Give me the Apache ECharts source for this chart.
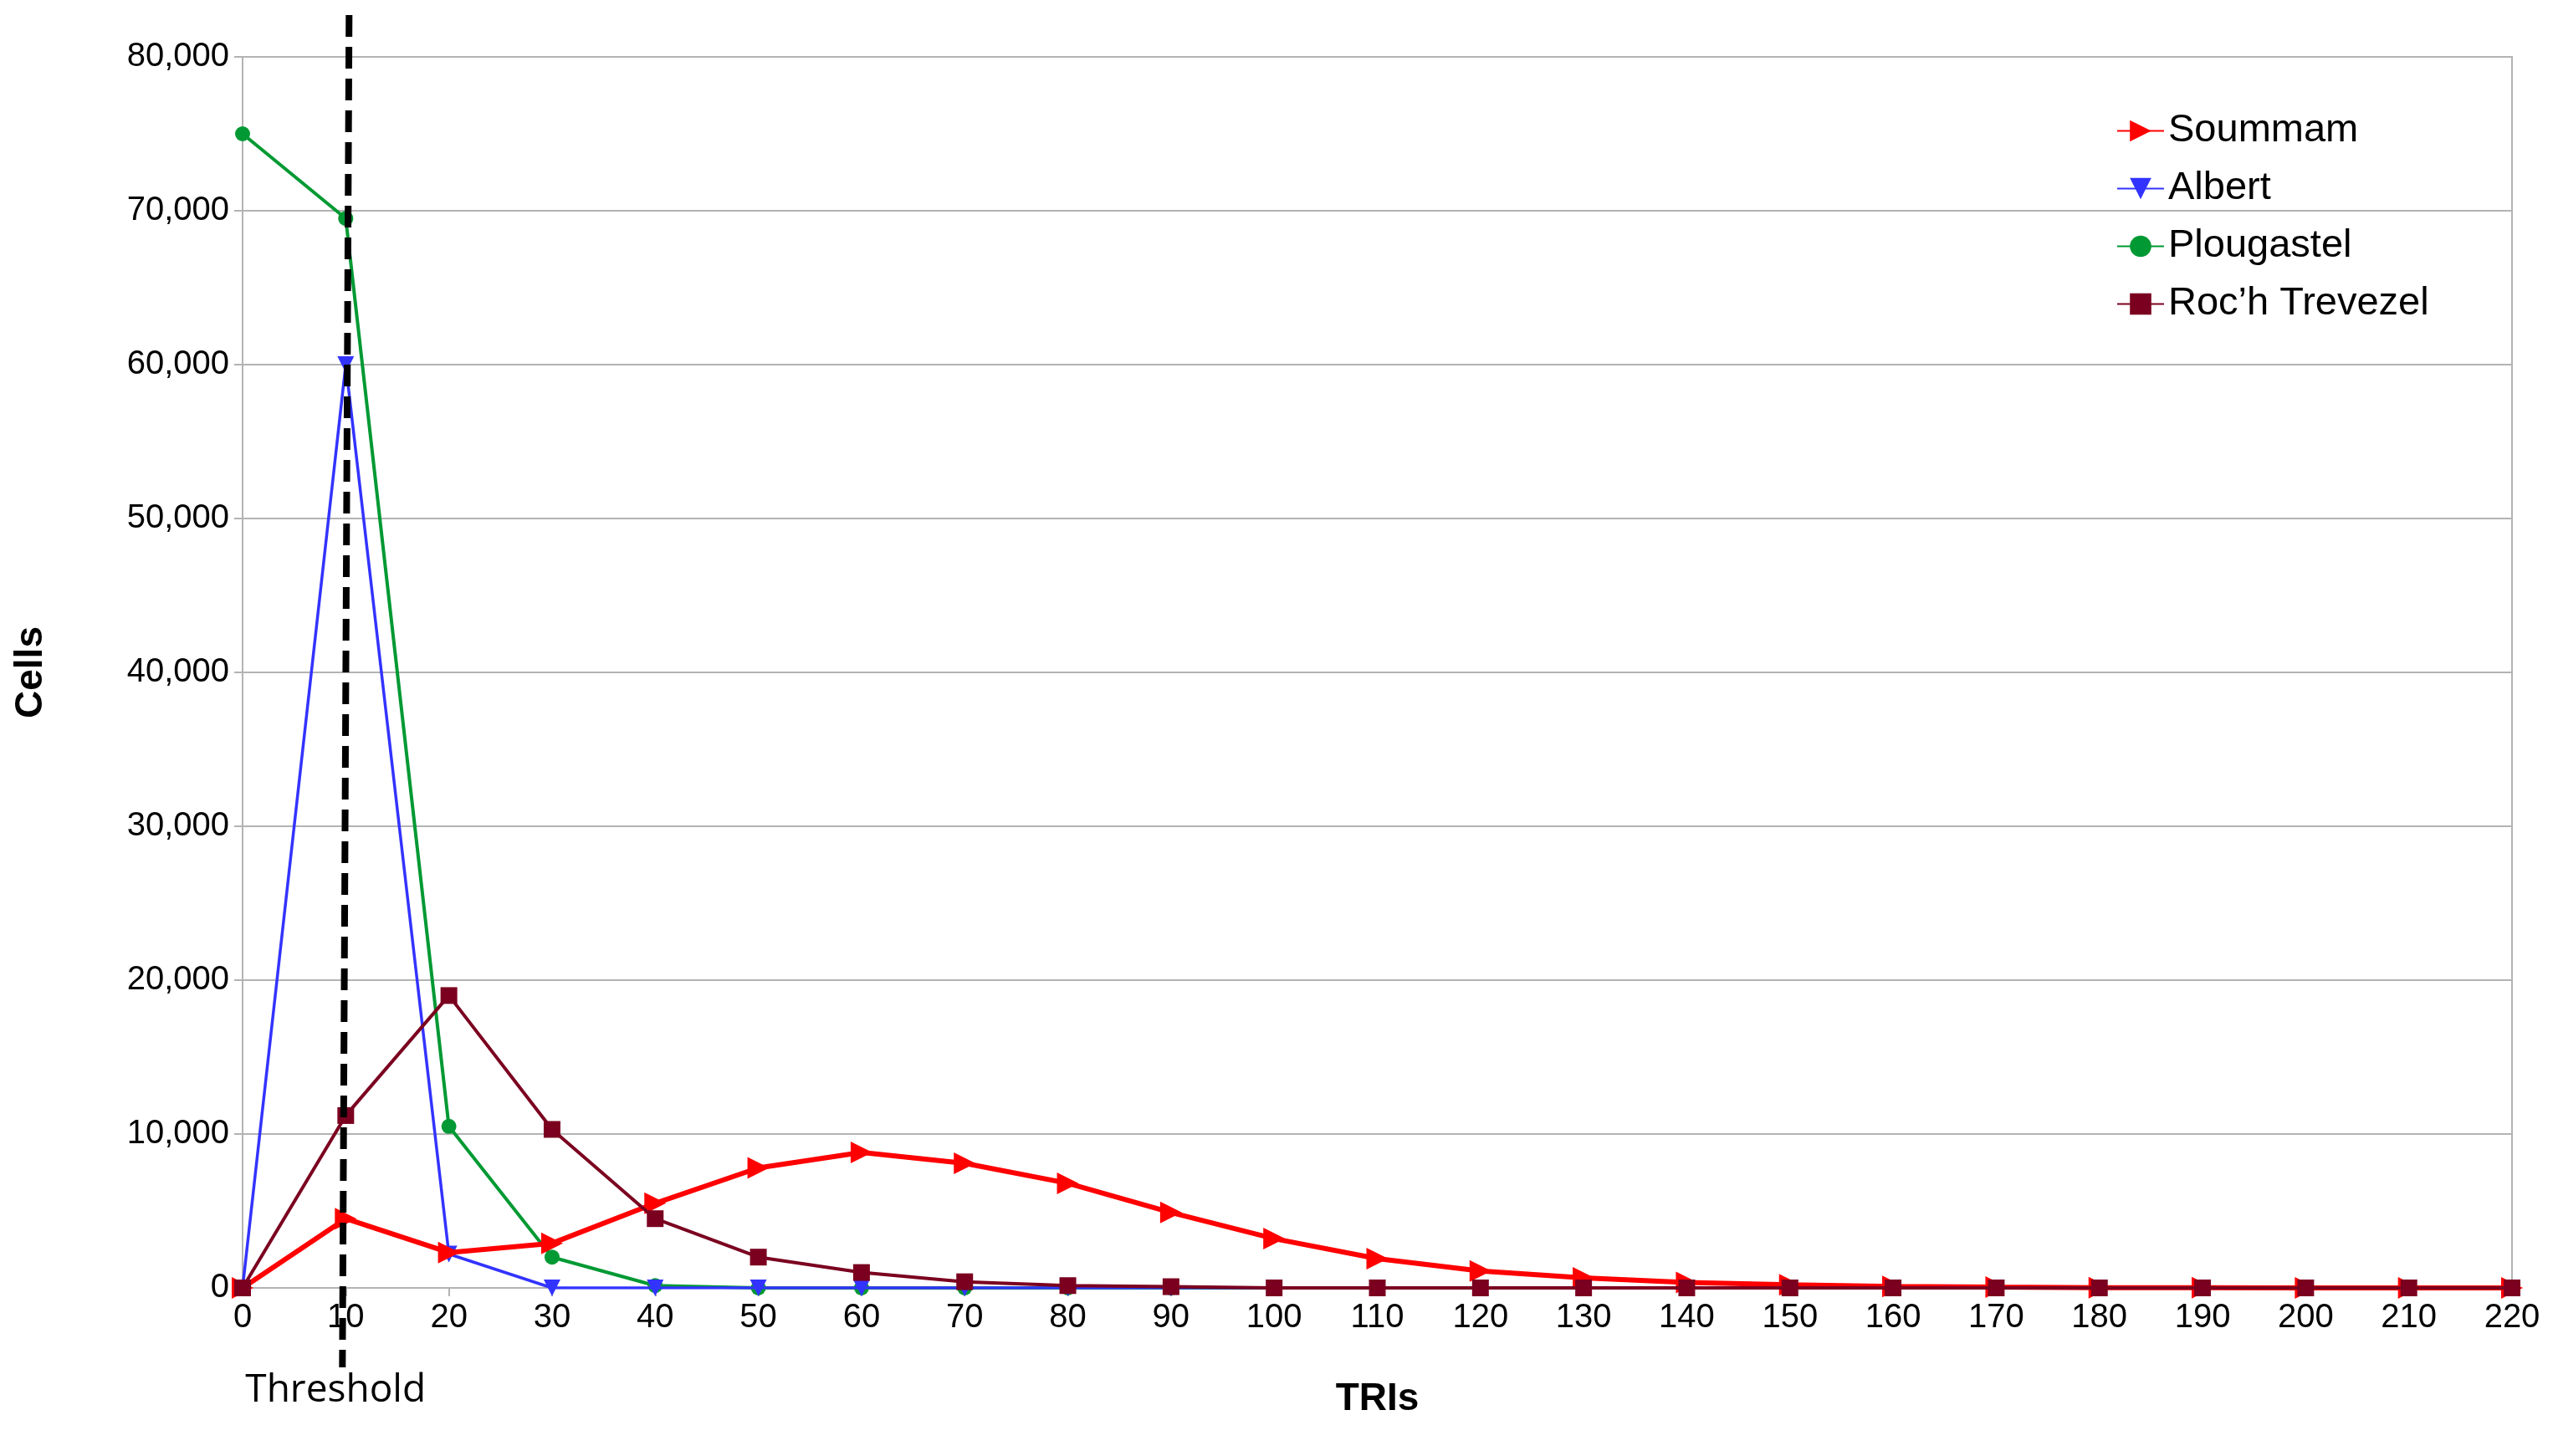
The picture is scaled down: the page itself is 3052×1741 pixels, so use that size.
<!DOCTYPE html>
<html>
<head>
<meta charset="utf-8">
<script src="https://cdn.jsdelivr.net/npm/echarts@6/dist/echarts.min.js"></script>
<style>html,body{margin:0;padding:0;background:#fff}#main{width:3052px;height:1741px}</style>
</head>
<body>
<div id="main"></div>
<script>
const tris = [0, 10, 20, 30, 40, 50, 60, 70, 80, 90, 100, 110, 120, 130, 140, 150, 160, 170, 180, 190, 200, 210, 220];
const soummam = [0, 4500, 2300, 2900, 5500, 7800, 8800, 8100, 6800, 4900, 3200, 1900, 1100, 650, 350, 200, 100, 50, 20, 10, 0, 0, 0];
const albert = [0, 60000, 2200, 0, 0, 0, 0, 0, 0, 0, 0, 0, 0, 0, 0, 0, 0, 0, 0, 0, 0, 0, 0];
const plougastel = [75000, 69500, 10500, 2000, 150, 0, 0, 0, 0, 0, 0, 0, 0, 0, 0, 0, 0, 0, 0, 0, 0, 0, 0];
const rochTrevezel = [0, 11200, 19000, 10300, 4500, 2000, 1000, 400, 150, 80, 0, 0, 0, 0, 0, 0, 0, 0, 0, 0, 0, 0, 0];
const threshold = 10;

const pairs = arr => tris.map((t, i) => [t, arr[i]]);
const font = 'Liberation Sans, Arial, sans-serif';

let chart = echarts.init(document.getElementById('main'));
chart.setOption({
  animation: false,
  textStyle: { fontFamily: font },
  grid: { left: 290, right: 49, top: 68, bottom: 201, show: true, borderColor: '#b3b3b3', borderWidth: 2 },
  legend: {
    orient: 'vertical', left: 2525, top: 128, itemGap: 22, itemWidth: 56, itemHeight: 32,
    textStyle: { fontSize: 47, color: '#000', fontFamily: font }
  },
  xAxis: {
    type: 'value', min: 0, max: 220, interval: 10,
    name: 'TRIs', nameLocation: 'middle', nameGap: 110,
    nameTextStyle: { fontSize: 46, fontWeight: 'bold', color: '#000' },
    axisLine: { lineStyle: { color: '#b3b3b3', width: 2 } },
    axisTick: { show: true, length: 10, lineStyle: { color: '#b3b3b3', width: 2 } },
    axisLabel: { fontSize: 40, color: '#000', margin: 16 },
    splitLine: { show: false }
  },
  yAxis: {
    type: 'value', min: 0, max: 80000, interval: 10000,
    name: 'Cells', nameLocation: 'middle', nameGap: 230,
    nameTextStyle: { fontSize: 46, fontWeight: 'bold', color: '#000' },
    axisLine: { show: true, lineStyle: { color: '#b3b3b3', width: 2 } },
    axisTick: { show: true, length: 10, lineStyle: { color: '#b3b3b3', width: 2 } },
    axisLabel: { fontSize: 40, color: '#000', margin: 16 },
    splitLine: { lineStyle: { color: '#b3b3b3', width: 2 } }
  },
  series: [
    { name: 'Soummam', type: 'line', data: pairs(soummam), color: '#ff0000',
      symbol: 'triangle', symbolRotate: -90, symbolSize: 26, lineStyle: { width: 6 }, z: 4 },
    { name: 'Albert', type: 'line', data: pairs(albert), color: '#3333ff',
      symbol: 'triangle', symbolRotate: 180, symbolSize: 20, lineStyle: { width: 3.5 }, z: 3 },
    { name: 'Plougastel', type: 'line', data: pairs(plougastel), color: '#009933',
      symbol: 'circle', symbolSize: 18, lineStyle: { width: 4 }, z: 2 },
    { name: 'Roc\u2019h Trevezel', type: 'line', data: pairs(rochTrevezel), color: '#7b0020',
      symbol: 'rect', symbolSize: 20, lineStyle: { width: 4 }, z: 5 }
  ]
});

// threshold line runs past the plot area, so draw it as a graphic
const tx = chart.convertToPixel({ xAxisIndex: 0 }, threshold);
chart.setOption({
  graphic: [
    { type: 'line', z: 100, shape: { x1: tx + 4, y1: 18, x2: tx - 4, y2: 1635 },
      style: { stroke: '#000', lineWidth: 8, lineDash: [26, 12] } },
    { type: 'text', left: tx - 120, top: 1640,
      style: { text: 'Threshold', font: '46px "Open Sans", sans-serif', fill: '#000' } }
  ]
});
</script>
</body>
</html>
